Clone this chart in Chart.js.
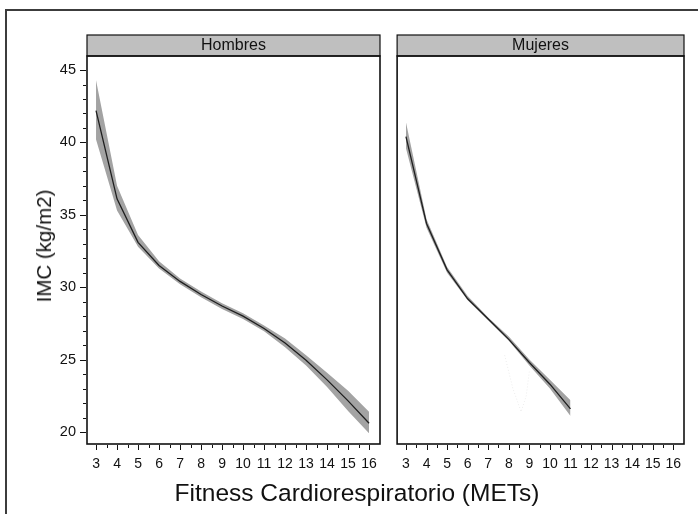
<!DOCTYPE html>
<html>
<head>
<meta charset="utf-8">
<script src="https://cdn.jsdelivr.net/npm/chart.js@4/dist/chart.umd.min.js"></script>
<style>
  body { margin: 0; background: #fff; font-family: "Liberation Sans", Arial, sans-serif; }
  #wrap { position: relative; width: 698px; height: 514px; overflow: hidden; }
  #frame { position: absolute; left: 5px; top: 9px; width: 720px; height: 540px; border: 2px solid #3c3c3c; box-sizing: border-box; }
  canvas { position: absolute; top: 0; }
  #ytitle { position: absolute; left: 44px; top: 246px; transform: translate(-50%, -50%) rotate(-90deg); font-size: 20.5px; color: #111; white-space: nowrap; }
  #xtitle { position: absolute; left: 357px; top: 493px; transform: translate(-50%, -50%); font-size: 24.5px; color: #111; white-space: nowrap; }
</style>
</head>
<body>
<div id="wrap">
  <div id="frame"></div>
  <canvas id="hombres" width="390" height="514" style="left:0"></canvas>
  <canvas id="mujeres" width="308" height="514" style="left:390px"></canvas>
  <div id="ytitle">IMC (kg/m2)</div>
  <div id="xtitle">Fitness Cardiorespiratorio (METs)</div>
</div>
<script>
// METs (x) and IMC (y)
const metsH = [3, 4, 5, 6, 7, 8, 9, 10, 11, 12, 13, 14, 15, 16];
const imcH = [42.2, 36.1, 33.1, 31.5, 30.4, 29.5, 28.7, 28.0, 27.15, 26.15, 24.95, 23.6, 22.15, 20.6];
const lowH = [40.2, 35.3, 32.8, 31.3, 30.2, 29.3, 28.5, 27.8, 26.95, 25.85, 24.6, 23.1, 21.45, 19.9];
const highH = [44.3, 37.0, 33.6, 31.8, 30.6, 29.7, 28.9, 28.2, 27.35, 26.45, 25.3, 24.1, 22.85, 21.4];

const metsM = [3, 4, 5, 6, 7, 8, 9, 10, 11];
const imcM = [40.4, 34.4, 31.2, 29.2, 27.8, 26.4, 24.8, 23.3, 21.6];
const lowM = [39.6, 34.1, 31.0, 29.1, 27.7, 26.3, 24.6, 23.0, 21.1];
const highM = [41.4, 34.7, 31.4, 29.4, 27.9, 26.6, 25.0, 23.6, 22.2];

// faint stray trace in the Mujeres panel
const ghostX = [7.8, 8.2, 8.6, 8.85, 9.0];
const ghostY = [25.3, 23.0, 21.4, 22.5, 24.2];

const xTicks = [3, 4, 5, 6, 7, 8, 9, 10, 11, 12, 13, 14, 15, 16];
const yTicks = [20, 25, 30, 35, 40, 45];

const pts = (xs, ys) => xs.map((x, i) => ({ x: x, y: ys[i] }));

const panelPlugin = {
  id: 'panel',
  afterDraw(chart, args, opts) {
    const ctx = chart.ctx;
    const a = chart.chartArea;
    const xs = chart.scales.x, ys = chart.scales.y;
    ctx.save();
    // strip header
    ctx.fillStyle = '#bfbfbf';
    ctx.fillRect(a.left, a.top - 21, a.right - a.left, 21);
    ctx.strokeStyle = '#111';
    ctx.lineWidth = 1.2;
    ctx.strokeRect(a.left, a.top - 21, a.right - a.left, 21);
    ctx.fillStyle = '#111';
    ctx.font = '16px "Liberation Sans", Arial, sans-serif';
    ctx.textAlign = 'center';
    ctx.textBaseline = 'middle';
    ctx.fillText(opts.label, (a.left + a.right) / 2, a.top - 10);
    // panel border
    ctx.lineWidth = 1.6;
    ctx.strokeRect(a.left, a.top, a.right - a.left, a.bottom - a.top);
    // x tick marks
    ctx.lineWidth = 1;
    ctx.beginPath();
    for (let v = 3; v <= 16; v += 0.5) {
      const px = Math.round(xs.getPixelForValue(v)) + 0.5;
      const len = Number.isInteger(v) ? 5 : 3;
      ctx.moveTo(px, a.bottom + 1);
      ctx.lineTo(px, a.bottom + 1 + len);
    }
    // y tick marks
    if (opts.yTicks) {
      for (let v = 20; v <= 45; v += 1) {
        const py = Math.round(ys.getPixelForValue(v)) + 0.5;
        const len = v % 5 === 0 ? 6 : 3;
        ctx.moveTo(a.left - 1, py);
        ctx.lineTo(a.left - 1 - len, py);
      }
    }
    ctx.stroke();
    ctx.restore();
  }
};

function makeDatasets(xs, imc, low, high) {
  return [
    { data: pts(xs, low), borderWidth: 0, pointRadius: 0, fill: false, backgroundColor: 'rgba(0,0,0,0)', order: 2 },
    { data: pts(xs, high), borderWidth: 0, pointRadius: 0, fill: '-1', backgroundColor: '#a3a3a3', order: 2 },
    { data: pts(xs, imc), borderColor: '#1e1e1e', borderWidth: 1.3, pointRadius: 0, fill: false, tension: 0, order: 0 }
  ];
}

function makeOptions(label, showY, padLeft, padRight) {
  return {
    responsive: false,
    animation: false,
    layout: { padding: { left: padLeft, right: padRight, top: 56, bottom: 0 } },
    plugins: { legend: { display: false }, tooltip: { enabled: false }, panel: { label: label, yTicks: showY } },
    scales: {
      x: {
        type: 'linear', min: 2.57, max: 16.52,
        afterBuildTicks: s => { s.ticks = xTicks.map(v => ({ value: v })); },
        afterFit: s => { s.height = 70; },
        grid: { display: false, drawTicks: false },
        border: { display: false },
        ticks: { padding: 12, color: '#111', font: { size: 14, family: '"Liberation Sans", Arial, sans-serif' }, maxRotation: 0, autoSkip: false }
      },
      y: {
        type: 'linear', min: 19.17, max: 45.97, display: showY,
        afterBuildTicks: s => { s.ticks = yTicks.map(v => ({ value: v })); },
        afterFit: s => { s.width = showY ? 87 : 0; },
        grid: { display: false, drawTicks: false },
        border: { display: false },
        ticks: { padding: 11, color: '#111', font: { size: 14.5, family: '"Liberation Sans", Arial, sans-serif' } }
      }
    }
  };
}

new Chart(document.getElementById('hombres'), {
  type: 'line',
  data: { datasets: makeDatasets(metsH, imcH, lowH, highH) },
  options: makeOptions('Hombres', true, 0, 10),
  plugins: [panelPlugin]
});

const mujData = makeDatasets(metsM, imcM, lowM, highM);
mujData.unshift({ data: pts(ghostX, ghostY), borderColor: '#ececec', borderWidth: 1, borderDash: [1, 2], pointRadius: 0, fill: false, order: 3 });
// fill '-1' still refers to the low band, which is now index 1
new Chart(document.getElementById('mujeres'), {
  type: 'line',
  data: { datasets: mujData },
  options: makeOptions('Mujeres', false, 2, 14),
  plugins: [panelPlugin]
});
</script>
</body>
</html>
